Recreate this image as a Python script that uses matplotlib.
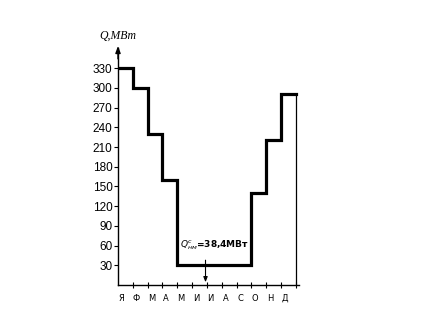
import matplotlib
matplotlib.use("Agg")
import matplotlib.pyplot as plt

months = ["Я", "Ф", "М", "А", "М", "И", "И", "А", "С", "О", "Н", "Д"]
values = [330, 300, 230, 160, 30, 30, 30, 30, 30, 140, 220, 290]
yticks = [30, 60, 90, 120, 150, 180, 210, 240, 270, 300, 330]
ylabel = "Q,МВт"
note = r"$Q^{с}_{нм}$=38,4МВт"
note_month = 5.9

fig = plt.figure(figsize=(4.48, 3.28), dpi=100)
ax = fig.add_axes([0.2634, 0.1311, 0.4039, 0.7212])

x = list(range(len(values) + 1))
y = values + [values[-1]]
ax.step(x, y, where="post", color="black", lw=2.3, solid_joinstyle="miter")
ax.vlines(len(values), 0, values[-1], color="black", lw=0.9)

ax.set_xlim(0, 12.2)
ax.set_ylim(0, 360)
for s in ["top", "right"]:
    ax.spines[s].set_visible(False)
ax.spines["left"].set_linewidth(1.0)
ax.spines["bottom"].set_linewidth(1.0)

ax.set_yticks(yticks)
ax.set_yticklabels([str(v) for v in yticks], fontsize=8.5,
                   family=["Liberation Sans Narrow", "Liberation Sans"])
ax.tick_params(axis="y", direction="out", length=3, width=0.8, pad=1)

ax.set_xticks(range(1, 13))
ax.set_xticklabels([])
ax.tick_params(axis="x", direction="inout", length=5, width=0.8)
for i, m in enumerate(months):
    ax.text(i + 0.25, -20, m, ha="center", va="center", fontsize=6,
            family="DejaVu Sans")

# axis arrow
ax.annotate("", xy=(0, 368), xytext=(0, 340),
            arrowprops=dict(arrowstyle="-|>,head_length=0.4,head_width=0.15",
                            color="black", lw=1.0), annotation_clip=False)
ax.text(0, 380, ylabel, ha="center", va="center", fontsize=8.5,
        family="Liberation Serif", style="italic", clip_on=False)

ax.text(6.5, 61, note, ha="center", va="center", fontsize=6.5,
        family="DejaVu Sans", fontweight="bold")
ax.annotate("", xy=(note_month, 0), xytext=(note_month, 42),
            arrowprops=dict(arrowstyle="-|>,head_length=0.3,head_width=0.12",
                            color="black", lw=0.8))

fig.savefig("out.png", dpi=100)
